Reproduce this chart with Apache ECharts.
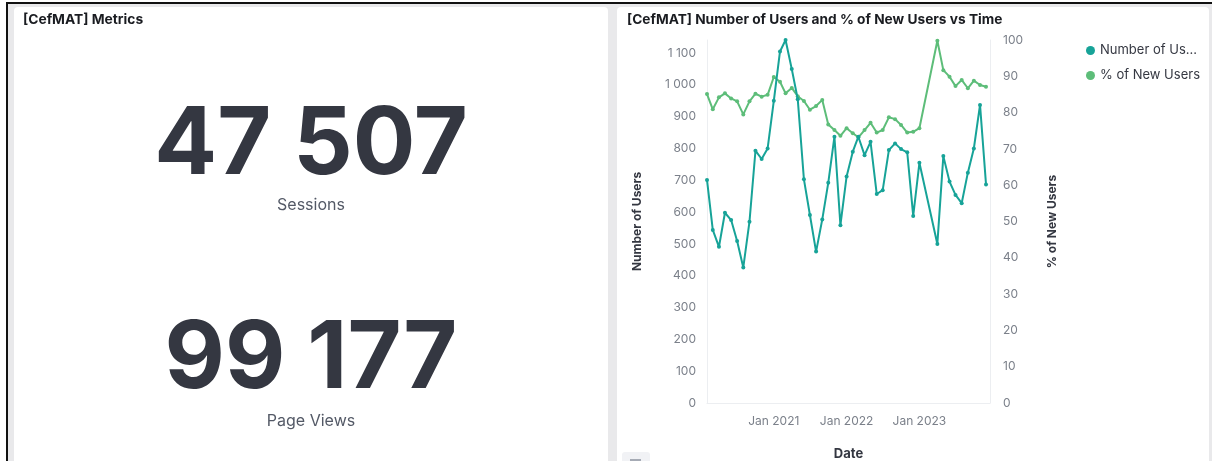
<!DOCTYPE html>
<html>
<head>
<meta charset="utf-8">
<script src="https://cdn.jsdelivr.net/npm/echarts@6/dist/echarts.min.js"></script>
<style>
  html, body { margin: 0; padding: 0; background: #fff; }
  #container { width: 1212px; height: 461px; }
</style>
</head>
<body>
<div id="container"></div>
<script>
// months with data (Feb and Mar 2023 are missing in the source)
var months = [
  '2020-02', '2020-03', '2020-04', '2020-05', '2020-06', '2020-07', '2020-08', '2020-09', '2020-10', '2020-11', '2020-12',
  '2021-01', '2021-02', '2021-03', '2021-04', '2021-05', '2021-06', '2021-07', '2021-08', '2021-09', '2021-10', '2021-11', '2021-12',
  '2022-01', '2022-02', '2022-03', '2022-04', '2022-05', '2022-06', '2022-07', '2022-08', '2022-09', '2022-10', '2022-11', '2022-12',
  '2023-01', '2023-04', '2023-05', '2023-06', '2023-07', '2023-08', '2023-09', '2023-10', '2023-11', '2023-12'
];
var users = [
  701, 544, 491, 598, 575, 509, 426, 570, 793, 767, 800,
  950, 1105, 1141, 1050, 955, 703, 591, 476, 577, 692, 837, 559,
  712, 790, 837, 779, 821, 657, 669, 795, 816, 798, 788, 588,
  755, 500, 776, 696, 654, 628, 724, 800, 937, 687
];
var newUsersPct = [
  85.1, 80.9, 84.2, 85.3, 83.9, 83.1, 79.5, 83.1, 85.2, 84.4, 84.9,
  89.8, 88.5, 85.3, 86.8, 84.5, 83.2, 80.8, 81.8, 83.5, 76.7, 75.2, 73.6,
  75.7, 74.3, 73.2, 75.2, 77.2, 74.5, 75.2, 78.7, 78.2, 76.6, 74.5, 74.7,
  75.7, 99.8, 91.7, 89.9, 87.3, 89.0, 86.7, 88.8, 87.6, 87.1
];
var xTickYears = [2021, 2022, 2023];
var metrics = [
  { value: '47 507', label: 'Sessions' },
  { value: '99 177', label: 'Page Views' }
];

var FONT = 'Inter, "Noto Sans", sans-serif';
var TEAL = '#17a398';
var GREEN = '#5dbd79';

var dataUsers = months.map((m, i) => [m + '-01', users[i]]);
var dataPct = months.map((m, i) => [m + '-01', newUsersPct[i]]);

function spaceThousands(v) {
  return String(v).replace(/\B(?=(\d{3})+(?!\d))/g, ' ');
}

var dom = document.getElementById('container');
var myChart = echarts.init(dom, null, { renderer: 'canvas' });

var graphics = [
  // frame
  { type: 'rect', z: -20, shape: { x: 6, y: 2, width: 1206, height: 470 }, style: { fill: '#e9e9eb' } },
  { type: 'rect', z: -19, shape: { x: 6, y: 2, width: 1206, height: 2 }, style: { fill: '#111' } },
  { type: 'rect', z: -19, shape: { x: 6, y: 2, width: 2, height: 470 }, style: { fill: '#111' } },
  { type: 'rect', z: -18, shape: { x: 14, y: 7, width: 594, height: 470, r: 4 }, style: { fill: '#fff' } },
  { type: 'rect', z: -18, shape: { x: 617, y: 7, width: 592, height: 470, r: 4 }, style: { fill: '#fff' } },
  { type: 'rect', z: -17, shape: { x: 622, y: 452, width: 28, height: 20, r: 3 }, style: { fill: '#f1f2f5' } },
  { type: 'rect', z: -16, shape: { x: 630, y: 459, width: 11, height: 2 }, style: { fill: '#a6abb5' } },
  // panel titles
  { type: 'text', x: 23, y: 20, style: { text: '[CefMAT] Metrics', font: '700 13.8px ' + FONT, fill: '#1a1c21', verticalAlign: 'middle' } },
  { type: 'text', x: 627, y: 20, style: { text: '[CefMAT] Number of Users and % of New Users vs Time', font: '700 13.7px ' + FONT, fill: '#1a1c21', verticalAlign: 'middle' } }
];

var metricY = [146, 360];
var labelY = [205, 421];
metrics.forEach((m, i) => {
  graphics.push({
    type: 'text', x: 311, y: metricY[i],
    style: { text: m.value, font: '700 93px ' + FONT, fill: '#343741', align: 'center', verticalAlign: 'middle' }
  });
  graphics.push({
    type: 'text', x: 311, y: labelY[i],
    style: { text: m.label, font: '400 16px ' + FONT, fill: '#535966', align: 'center', verticalAlign: 'middle' }
  });
});

var axisLabelStyle = { color: '#7b808a', fontSize: 12, fontFamily: FONT };
var axisNameStyle = { color: '#343741', fontSize: 12, fontWeight: 'bold', fontFamily: FONT };
var axisLineStyle = { show: true, lineStyle: { color: '#eceef1', width: 1 } };

var option = {
  animation: false,
  textStyle: { fontFamily: FONT },
  graphic: graphics,
  legend: {
    orient: 'vertical',
    left: 1081,
    top: 39,
    itemGap: 12,
    itemWidth: 9,
    itemHeight: 9,
    icon: 'circle',
    selectedMode: false,
    textStyle: { color: '#343741', fontSize: 13, fontFamily: FONT },
    formatter: name => name.length > 14 ? name.slice(0, 12) + '...' : name,
    data: ['Number of Users', '% of New Users']
  },
  grid: { left: 707, right: 222, top: 40, bottom: 58, outerBoundsMode: 'none', containLabel: false },
  xAxis: {
    type: 'time',
    min: '2020-02-01',
    max: '2023-12-21',
    name: 'Date',
    nameLocation: 'middle',
    nameGap: 45,
    nameTextStyle: Object.assign({}, axisNameStyle, { fontSize: 13 }),
    axisLine: axisLineStyle,
    axisTick: { show: false },
    splitLine: { show: false },
    axisLabel: Object.assign({}, axisLabelStyle, {
      margin: 12,
      hideOverlap: false,
      formatter: function(v) {
        var d = new Date(v);
        if (d.getMonth() === 0 && d.getDate() === 1 && xTickYears.indexOf(d.getFullYear()) >= 0) {
          return 'Jan ' + d.getFullYear();
        }
        return '';
      }
    })
  },
  yAxis: [
    {
      type: 'value',
      min: 0,
      max: 'dataMax',
      interval: 100,
      name: 'Number of Users',
      nameLocation: 'middle',
      nameGap: 64,
      nameTextStyle: axisNameStyle,
      axisLine: axisLineStyle,
      axisTick: { show: false },
      splitLine: { show: false },
      axisLabel: Object.assign({}, axisLabelStyle, { margin: 11, showMaxLabel: false, formatter: spaceThousands })
    },
    {
      type: 'value',
      min: 0,
      max: 100,
      interval: 10,
      name: '% of New Users',
      nameLocation: 'middle',
      nameGap: 56,
      nameTextStyle: axisNameStyle,
      axisLine: axisLineStyle,
      axisTick: { show: false },
      splitLine: { show: false },
      axisLabel: Object.assign({}, axisLabelStyle, { margin: 13 })
    }
  ],
  series: [
    {
      name: 'Number of Users',
      type: 'line',
      yAxisIndex: 0,
      data: dataUsers,
      color: TEAL,
      symbol: 'circle',
      symbolSize: 4,
      lineStyle: { width: 2 },
      z: 3
    },
    {
      name: '% of New Users',
      type: 'line',
      yAxisIndex: 1,
      data: dataPct,
      color: GREEN,
      symbol: 'circle',
      symbolSize: 4,
      lineStyle: { width: 2 },
      z: 2
    }
  ]
};

myChart.setOption(option);
window.onresize = function() {
  myChart.resize();
};
</script>
</body>
</html>
